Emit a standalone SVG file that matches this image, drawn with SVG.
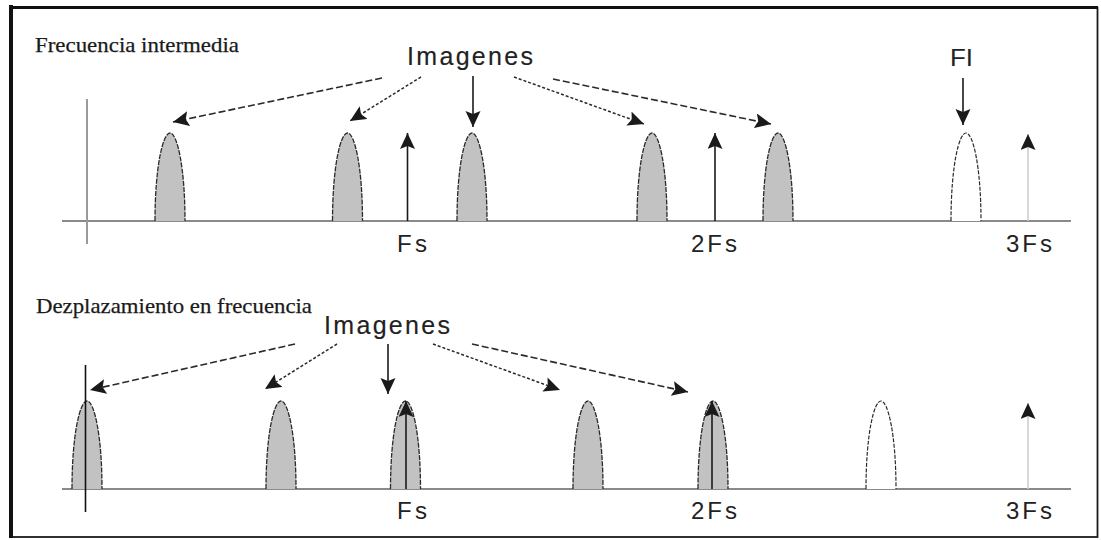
<svg xmlns="http://www.w3.org/2000/svg" xmlns:xlink="http://www.w3.org/1999/xlink" width="1101" height="540" viewBox="0 0 1101 540">
  <style>
    .title { font-family: "Liberation Serif", "DejaVu Serif", serif; font-size: 22px; fill: #1a1a1a; stroke: #1a1a1a; stroke-width: 0.25; }
    .lbl { font-family: "Liberation Sans", Arial, sans-serif; font-size: 24px; fill: #222; }
    .big { font-family: "Liberation Sans", Arial, sans-serif; font-size: 25px; fill: #222; stroke: #222; stroke-width: 0.15; }
    .axis { stroke: #8a8a8a; stroke-width: 2; fill: none; }
    .img { fill: #c2c2c2; stroke: #2a2a2a; stroke-width: 1.3; stroke-dasharray: 5 1.2; }
    .sig { fill: #ffffff; stroke: #2a2a2a; stroke-width: 1.2; stroke-dasharray: 4 1.5; }
    .imp { stroke: #1a1a1a; stroke-width: 1.6; fill: none; marker-end: url(#head); }
    .imp-light { stroke: #cfcfcf; stroke-width: 1.6; fill: none; marker-end: url(#head); }
    .ptr { stroke: #1a1a1a; stroke-width: 1.6; fill: none; marker-end: url(#head); }
    .dash-long { stroke: #2a2a2a; stroke-width: 1.6; fill: none; stroke-dasharray: 7 3; marker-end: url(#head); }
    .dash-short { stroke: #2a2a2a; stroke-width: 1.5; fill: none; stroke-dasharray: 3 2; marker-end: url(#head); }
  </style>
  <defs>
    <marker id="head" markerUnits="userSpaceOnUse" markerWidth="17" markerHeight="17" refX="16" refY="7.5" orient="auto">
      <path d="M0,0 L16,7.5 L0,15 L3,7.5 Z" fill="#1a1a1a"/>
    </marker>
    <!-- one spectral lobe, base at the origin -->
    <path id="lobe" d="M-15,0 C-15,-55 -7,-88 0,-88 C7,-88 15,-55 15,0"/>
  </defs>

  <rect width="1101" height="540" fill="#ffffff"/>

  <!-- frame -->
  <g id="frame">
    <rect x="11" y="8" width="1086.5" height="529" fill="none" stroke="#1a1a1a" stroke-width="1.8"/>
    <line x1="11" y1="5" x2="11" y2="538" stroke="#111" stroke-width="4"/>
    <line x1="9" y1="7.5" x2="1098" y2="7.5" stroke="#111" stroke-width="3"/>
  </g>

  <!-- ===== upper spectrum: intermediate frequency ===== -->
  <g id="top-panel">
    <text class="title" x="35" y="52" textLength="204" lengthAdjust="spacingAndGlyphs">Frecuencia intermedia</text>
    <g id="top-axis">
      <line class="axis" x1="62" y1="221" x2="1071" y2="221"/>
      <line x1="87" y1="99" x2="87" y2="244" stroke="#9a9a9a" stroke-width="2"/>
    </g>
    <g id="top-image-1"><use xlink:href="#lobe" x="170" y="221" class="img"/></g>
    <g id="top-image-2"><use xlink:href="#lobe" x="347.5" y="221" class="img"/></g>
    <g id="top-image-3"><use xlink:href="#lobe" x="472" y="221" class="img"/></g>
    <g id="top-image-4"><use xlink:href="#lobe" x="652" y="221" class="img"/></g>
    <g id="top-image-5"><use xlink:href="#lobe" x="778" y="221" class="img"/></g>
    <g id="top-fi"><use xlink:href="#lobe" x="966" y="221" class="sig"/></g>
    <g id="top-fs">
      <line class="imp" x1="407.5" y1="221" x2="407.5" y2="133"/>
      <text class="lbl" x="397" y="252" textLength="30" lengthAdjust="spacing">Fs</text>
    </g>
    <g id="top-2fs">
      <line class="imp" x1="715" y1="221" x2="715" y2="133"/>
      <text class="lbl" x="691" y="252" textLength="46" lengthAdjust="spacing">2Fs</text>
    </g>
    <g id="top-3fs">
      <line class="imp-light" x1="1028" y1="221" x2="1028" y2="134"/>
      <text class="lbl" x="1006" y="252" textLength="46" lengthAdjust="spacing">3Fs</text>
    </g>
    <text id="top-imagenes" class="big" x="407" y="65" textLength="126" lengthAdjust="spacing">Imagenes</text>
    <text id="top-fi-label" class="lbl" x="950" y="66" font-size="26" textLength="23" lengthAdjust="spacingAndGlyphs">FI</text>
  </g>

  <!-- ===== lower spectrum: frequency shift ===== -->
  <g id="bottom-panel">
    <text class="title" x="36" y="313" textLength="276" lengthAdjust="spacingAndGlyphs">Dezplazamiento en frecuencia</text>
    <g id="bottom-axis">
      <line class="axis" x1="62" y1="489" x2="1071" y2="489"/>
    </g>
    <g id="bottom-image-1"><use xlink:href="#lobe" x="87" y="489" class="img"/></g>
    <g id="bottom-image-2"><use xlink:href="#lobe" x="281" y="489" class="img"/></g>
    <g id="bottom-image-3"><use xlink:href="#lobe" x="405.5" y="489" class="img"/></g>
    <g id="bottom-image-4"><use xlink:href="#lobe" x="588" y="489" class="img"/></g>
    <g id="bottom-image-5"><use xlink:href="#lobe" x="713" y="489" class="img"/></g>
    <g id="bottom-fi"><use xlink:href="#lobe" x="881" y="489" class="sig"/></g>
    <g id="bottom-dc">
      <line x1="85.5" y1="365" x2="85.5" y2="512" stroke="#111" stroke-width="1.6"/>
    </g>
    <g id="bottom-fs">
      <line class="imp" x1="406" y1="489" x2="406" y2="401"/>
      <text class="lbl" x="397" y="519" textLength="30" lengthAdjust="spacing">Fs</text>
    </g>
    <g id="bottom-2fs">
      <line class="imp" x1="712" y1="489" x2="712" y2="401"/>
      <text class="lbl" x="691" y="519" textLength="46" lengthAdjust="spacing">2Fs</text>
    </g>
    <g id="bottom-3fs">
      <line class="imp-light" x1="1028" y1="489" x2="1028" y2="403"/>
      <text class="lbl" x="1006" y="519" textLength="46" lengthAdjust="spacing">3Fs</text>
    </g>
    <text id="bottom-imagenes" class="big" x="324" y="334" textLength="126" lengthAdjust="spacing">Imagenes</text>
  </g>

  <!-- pointers from the labels to the lobes -->
  <g id="connectors">
    <!-- upper -->
    <line class="dash-long" x1="382" y1="78" x2="173" y2="122"/>
    <line class="dash-short" x1="421" y1="77" x2="350" y2="121"/>
    <line class="ptr" x1="473" y1="76" x2="473" y2="127"/>
    <line class="dash-short" x1="514" y1="77" x2="644" y2="124"/>
    <line class="dash-long" x1="553" y1="79" x2="771" y2="124"/>
    <line class="ptr" x1="963" y1="78" x2="963" y2="125"/>
    <!-- lower -->
    <line class="dash-long" x1="295" y1="344" x2="90" y2="390"/>
    <line class="dash-short" x1="337" y1="344" x2="265" y2="389"/>
    <line class="ptr" x1="388" y1="344" x2="388" y2="394"/>
    <line class="dash-short" x1="433" y1="344" x2="560" y2="390"/>
    <line class="dash-long" x1="472" y1="344" x2="688" y2="392"/>
  </g>
</svg>
